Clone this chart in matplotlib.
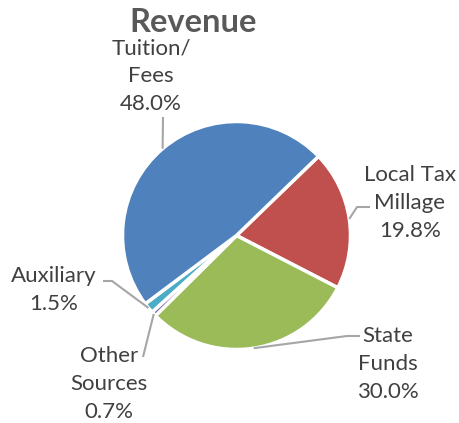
import matplotlib
matplotlib.use('Agg')
import matplotlib.pyplot as plt
import numpy as np

# data (clockwise order, as in the picture)
labels = ['Local Tax\nMillage', 'State\nFunds', 'Other\nSources', 'Auxiliary', 'Tuition/\nFees']
shares = [19.8, 30.0, 0.7, 1.5, 48.0]
colors = ['#C0504D', '#9BBB59', '#8064A2', '#4BACC6', '#4F81BD']

W, H = 459, 423
plt.rcParams['font.family'] = ['Lato', 'DejaVu Sans']

fig = plt.figure(figsize=(W / 100, H / 100), dpi=100)
ax = fig.add_axes([0, 0, 1, 1])

cx, cy, r = 236.5, H - 235.5, 114
start = 44

wedges, _ = ax.pie(shares, colors=colors, startangle=start, counterclock=False,
                   center=(cx, cy), radius=r, frame=True,
                   wedgeprops=dict(edgecolor='white', linewidth=2.5))
ax.set_xlim(0, W)
ax.set_ylim(0, H)
ax.set_aspect('equal')
ax.axis('off')

# label layout in pixel coords: (text x, text y, leader points after the wedge edge)
layout = [
    (410, 203, [(357, 207), (370, 207)]),
    (388, 364, [(347, 336), (360, 336)]),
    (109, 384, [(143, 357)]),
    (54, 290, [(112, 281), (103, 281)]),
    (151, 76, [(163, 117)]),
]

for w, lab, val, (tx, ty, pts) in zip(wedges, labels, shares, layout):
    mid = np.deg2rad((w.theta1 + w.theta2) / 2)
    x0 = cx + r * np.cos(mid)
    y0 = cy + r * np.sin(mid)
    xs = [x0] + [p[0] for p in pts]
    ys = [y0] + [H - p[1] for p in pts]
    ax.plot(xs, ys, color='#A6A6A6', lw=1.5, solid_capstyle='butt')
    ax.text(tx, H - ty, '%s\n%.1f%%' % (lab, val), ha='center', va='center',
            fontsize=16, color='#404040', linespacing=1.5)

ax.text(193, H - 22, 'Revenue', ha='center', va='center', fontsize=23.5,
        fontweight='bold', color='#595959')

fig.savefig('out.png', dpi=100)
